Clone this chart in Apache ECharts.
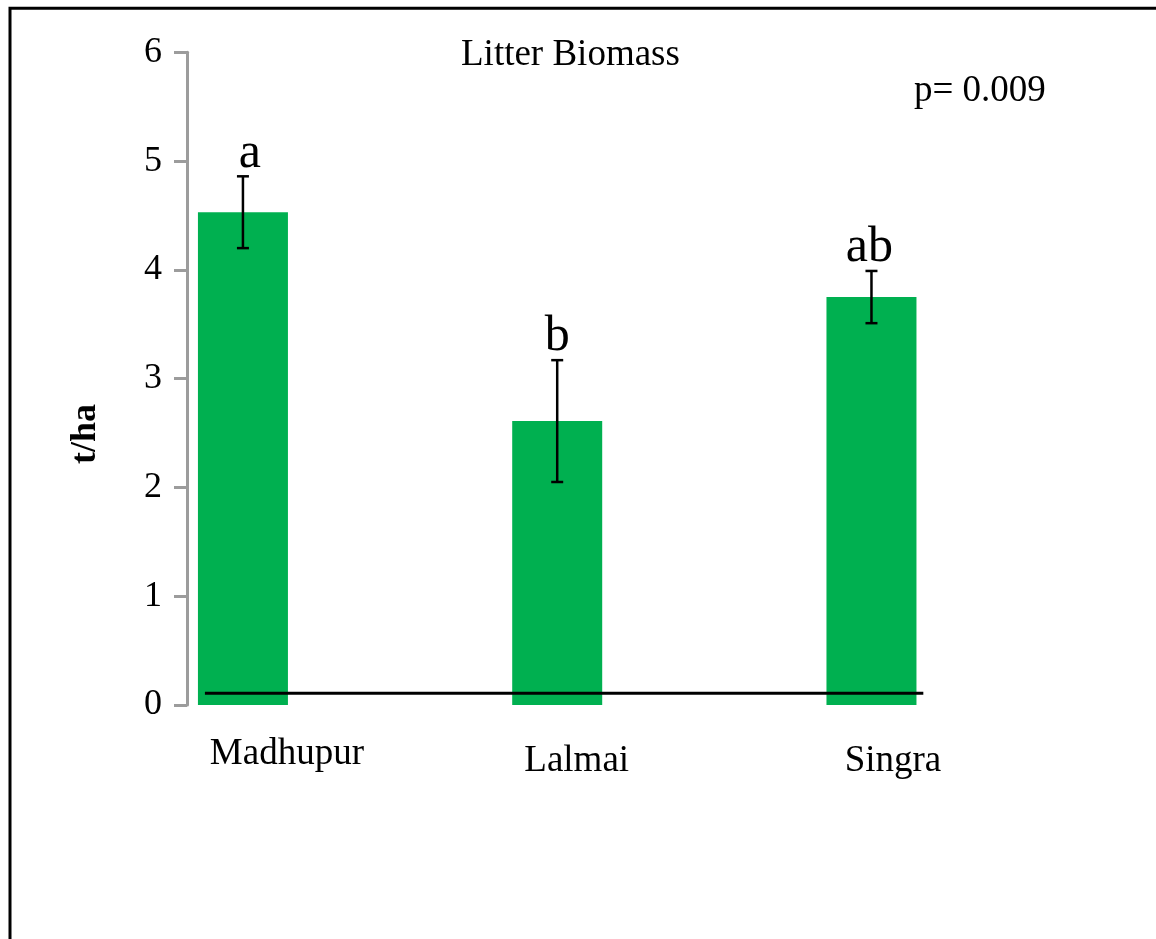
<!DOCTYPE html>
<html>
<head>
<meta charset="utf-8">
<title>Litter Biomass</title>
<script src="https://cdn.jsdelivr.net/npm/echarts@6/dist/echarts.min.js"></script>
<style>
  html, body { margin: 0; padding: 0; background: #fff; }
  #chart { width: 1156px; height: 939px; }
</style>
</head>
<body>
<div id="chart"></div>
<script>
// Sites, mean litter biomass (t/ha) and standard errors
const categories = ['Madhupur', 'Lalmai', 'Singra'];
const means = [4.53, 2.61, 3.75];
const errors = [0.33, 0.56, 0.24];
const groupLetters = ['a', 'b', 'ab'];
const yTicks = [0, 1, 2, 3, 4, 5, 6];
const pValueText = 'p= 0.009';
// reference line drawn just above zero across the bars
const refLineY = 0.107;
const refLineX = [-0.121, 2.165];

// label layout (pixel offsets of the site names below each bar)
const nameOffsets = [[44, 31], [19.5, 38], [21.5, 38]];
const letterOffsets = [[7, 3], [0, 2], [-2, 2]];

const FONT = "'Liberation Serif', 'Times New Roman', serif";
const GREEN = '#00B050';

const chart = echarts.init(document.getElementById('chart'));

const barData = means.map((v, i) => ({
  value: [i, v],
  label: { offset: nameOffsets[i] }
}));

const errData = means.map((v, i) => [i, v - errors[i], v + errors[i], i]);

const option = {
  backgroundColor: '#ffffff',
  animation: false,
  title: [
    {
      text: 'Litter Biomass',
      left: 461, top: 37, padding: 0,
      textStyle: { fontFamily: FONT, fontSize: 37, fontWeight: 'normal', color: '#000' }
    },
    {
      text: pValueText,
      left: 914, top: 73, padding: 0,
      textStyle: { fontFamily: FONT, fontSize: 37, fontWeight: 'normal', color: '#000' }
    }
  ],
  graphic: [
    {
      type: 'rect',
      shape: { x: 10, y: 8.3, width: 1300, height: 1100 },
      style: { fill: 'none', stroke: '#000', lineWidth: 3 },
      silent: true
    },
    {
      type: 'text',
      x: 86, y: 434,
      rotation: Math.PI / 2,
      style: {
        text: 't/ha',
        font: "bold 36px 'Liberation Serif', 'Times New Roman', serif",
        fill: '#000',
        align: 'center',
        verticalAlign: 'middle'
      }
    }
  ],
  grid: { left: 187, top: 52.3, bottom: 234, right: 127.4, containLabel: false },
  xAxis: {
    type: 'value',
    min: -0.178,
    max: 2.5,
    show: false
  },
  yAxis: {
    type: 'value',
    min: yTicks[0],
    max: yTicks[yTicks.length - 1],
    interval: 1,
    axisLine: { show: true, onZero: false, lineStyle: { color: '#9c9c9c', width: 3 } },
    axisTick: { show: true, length: 13, lineStyle: { color: '#9c9c9c', width: 3 } },
    axisLabel: { fontFamily: FONT, fontSize: 36, color: '#000', margin: 25 },
    splitLine: { show: false }
  },
  series: [
    {
      type: 'bar',
      data: barData,
      barWidth: 90,
      itemStyle: { color: GREEN },
      label: {
        show: true,
        position: 'bottom',
        distance: 0,
        formatter: (p) => categories[p.dataIndex],
        fontFamily: FONT,
        fontSize: 37,
        color: '#000'
      },
      z: 2
    },
    {
      type: 'line',
      data: [[refLineX[0], refLineY], [refLineX[1], refLineY]],
      symbol: 'none',
      lineStyle: { color: '#000', width: 3 },
      silent: true,
      z: 3
    },
    {
      type: 'custom',
      data: errData,
      z: 4,
      renderItem: (params, api) => {
        const x = api.value(0);
        const lo = api.coord([x, api.value(1)]);
        const hi = api.coord([x, api.value(2)]);
        const idx = api.value(3);
        const cap = 6;
        const ls = { stroke: '#000', lineWidth: 2.5 };
        return {
          type: 'group',
          children: [
            { type: 'line', shape: { x1: hi[0], y1: hi[1], x2: lo[0], y2: lo[1] }, style: ls },
            { type: 'line', shape: { x1: hi[0] - cap, y1: hi[1], x2: hi[0] + cap, y2: hi[1] }, style: ls },
            { type: 'line', shape: { x1: lo[0] - cap, y1: lo[1], x2: lo[0] + cap, y2: lo[1] }, style: ls },
            {
              type: 'text',
              x: hi[0] + letterOffsets[idx][0],
              y: hi[1] + letterOffsets[idx][1],
              style: {
                text: groupLetters[idx],
                font: "50px 'Liberation Serif', 'Times New Roman', serif",
                fill: '#000',
                align: 'center',
                verticalAlign: 'bottom'
              }
            }
          ]
        };
      }
    }
  ]
};

chart.setOption(option);
</script>
</body>
</html>
